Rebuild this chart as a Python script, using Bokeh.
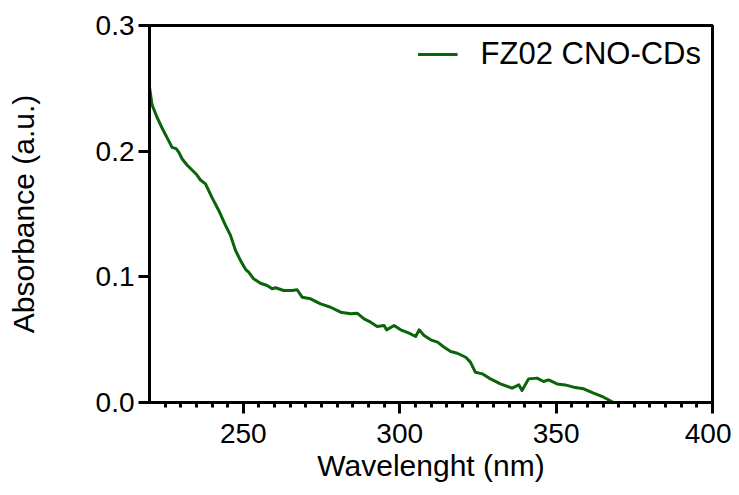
from bokeh.plotting import figure
from bokeh.models import FixedTicker, Range1d, Legend, LegendItem, NumeralTickFormatter
from bokeh.embed import file_html
from bokeh.resources import INLINE

wavelength = [220.0, 220.8, 222.4, 224.3, 226.2, 227.2, 228.5, 229.4, 230.4, 232.0,
              233.6, 235.2, 236.3, 237.9, 240.0, 242.1, 244.3, 245.9, 247.5, 249.1,
              250.7, 251.7, 253.3, 255.5, 257.6, 259.2, 260.3, 262.9, 265.6, 267.2,
              268.8, 271.5, 274.7, 277.9, 281.1, 284.3, 286.4, 288.6, 290.7, 292.8,
              295.0, 295.8, 298.2, 300.3, 303.0, 305.1, 306.2, 307.8, 309.9, 312.1,
              314.2, 316.3, 318.4, 321.1, 322.6, 324.2, 326.4, 329.0, 332.2, 335.9,
              338.1, 339.1, 341.2, 343.9, 346.0, 347.6, 350.3, 352.9, 355.6, 358.8,
              362.0, 365.2, 368.4]
absorbance = [0.251, 0.237, 0.227, 0.217, 0.208, 0.203, 0.202, 0.199, 0.194, 0.189,
              0.185, 0.181, 0.177, 0.174, 0.163, 0.153, 0.141, 0.133, 0.121, 0.113,
              0.106, 0.1037, 0.0984, 0.0949, 0.0931, 0.0905, 0.0913, 0.0891, 0.0891, 0.0897,
              0.0838, 0.0825, 0.0785, 0.0758, 0.0719, 0.0706, 0.0711, 0.0666, 0.0639, 0.0605,
              0.0613, 0.0578, 0.0613, 0.0578, 0.0552, 0.0525, 0.0578, 0.0533, 0.0499, 0.048,
              0.044, 0.0406, 0.0392, 0.036, 0.0321, 0.0241, 0.0228, 0.0188, 0.0148, 0.0114,
              0.014, 0.0095, 0.0188, 0.0194, 0.0167, 0.018, 0.0148, 0.014, 0.0122, 0.0109,
              0.0074, 0.0042, 0.0]

x_major = [250, 300, 350, 400]
x_minor = [v for v in range(225, 400, 5)]
y_major = [0.0, 0.1, 0.2, 0.3]
series_name = "FZ02 CNO-CDs"

FONT = "Liberation Sans"

p = figure(width=731, height=487, output_backend="svg", toolbar_location=None,
           x_range=Range1d(220, 400), y_range=Range1d(0, 0.3),
           min_border_left=149, min_border_right=19, min_border_top=25, min_border_bottom=85)

r = p.line(wavelength, absorbance, line_color="#0a640a", line_width=3, line_join="round")

p.xgrid.visible = False
p.ygrid.visible = False
p.outline_line_color = "black"
p.outline_line_width = 3

p.xaxis.ticker = FixedTicker(ticks=x_major, minor_ticks=x_minor)
p.yaxis.ticker = FixedTicker(ticks=y_major)
p.yaxis.formatter = NumeralTickFormatter(format="0.0")

for ax in (p.xaxis[0], p.yaxis[0]):
    ax.axis_line_width = 3
    ax.axis_line_color = "black"
    ax.major_tick_line_width = 3
    ax.major_tick_line_color = "black"
    ax.minor_tick_line_width = 3
    ax.minor_tick_line_color = "black"
    ax.major_tick_in = 0
    ax.major_tick_out = 11
    ax.minor_tick_in = 0
    ax.minor_tick_out = 5
    ax.major_label_text_font = FONT
    ax.major_label_text_font_size = "28px"
    ax.major_label_text_color = "black"
    ax.axis_label_text_font = FONT
    ax.axis_label_text_font_size = "30px"
    ax.axis_label_text_font_style = "normal"
    ax.axis_label_text_color = "black"

p.yaxis.minor_tick_out = 0
p.xaxis.axis_label = "Wavelenght (nm)"
p.yaxis.axis_label = "Absorbance (a.u.)"
p.xaxis.major_label_standoff = 10
p.xaxis.axis_label_standoff = 3
p.yaxis.major_label_standoff = 4
p.yaxis.axis_label_standoff = 53

legend = Legend(items=[LegendItem(label=series_name, renderers=[r])],
                location="top_right", border_line_color=None, background_fill_alpha=0,
                glyph_width=40, label_standoff=23, margin=11, padding=6,
                label_text_font=FONT, label_text_font_size="31px", label_text_color="black")
p.add_layout(legend)

open("out.html", "w").write(file_html(p, INLINE))
